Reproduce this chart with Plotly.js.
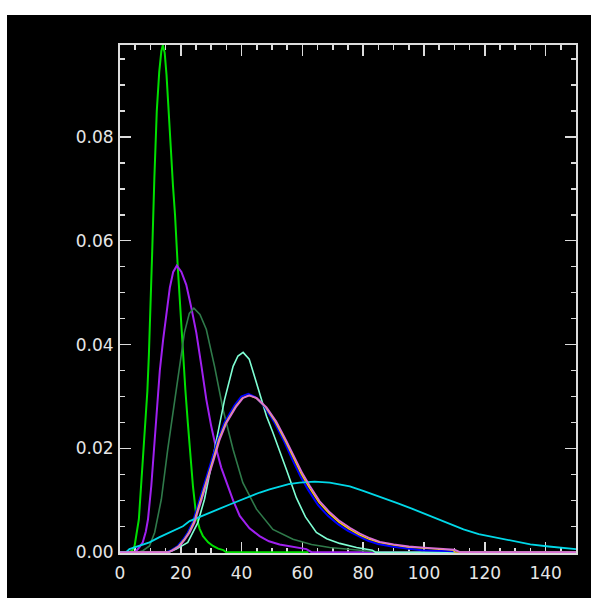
<!DOCTYPE html>
<html>
<head>
<meta charset="utf-8">
<script src="https://cdn.plot.ly/plotly-3.0.1.min.js"></script>
<style>
html,body{margin:0;padding:0;background:#ffffff;width:599px;height:610px;overflow:hidden;}
#chart{position:absolute;left:7px;top:15px;width:584px;height:583px;}
</style>
</head>
<body>
<div id="chart"></div>
<script>
// Curve 1 (green)
var greenX = [0, 3, 4, 4.8, 6.2, 7.3, 8.4, 9.0, 9.5, 10.0, 10.6, 11.3, 12.1, 12.9, 13.6, 14.1, 14.7, 15.3, 16.1, 16.8, 17.4, 18.1, 19.0, 19.8, 20.6, 21.5, 22.3, 23.1, 24.0, 25.1, 26.2, 27.3, 29.0, 30.6, 32.3, 34.0, 35, 62];
var greenY = [0, 0, 0.0003, 0.0012, 0.0063, 0.016, 0.0256, 0.031, 0.038, 0.046, 0.058, 0.072, 0.085, 0.0925, 0.0965, 0.0977, 0.0962, 0.0920, 0.0848, 0.0770, 0.0708, 0.0650, 0.0550, 0.0467, 0.0390, 0.0313, 0.0250, 0.0192, 0.0127, 0.0069, 0.0045, 0.0031, 0.0019, 0.0012, 0.0007, 0.0004, 0, 0];
// Curve 2 (purple)
var purpleX = [0, 5, 6.4, 7.5, 8.5, 9.2, 10.3, 11.1, 12.1, 13.1, 14.2, 15.3, 16.4, 17.5, 18.7, 20.2, 21.8, 23.5, 25.1, 26.8, 28.4, 30.0, 31.7, 33.3, 35.0, 37.2, 39.4, 42.6, 45.9, 49.0, 52.5, 57.0, 61.3, 63, 150];
var purpleY = [0, 0, 0.001, 0.0019, 0.004, 0.0063, 0.0128, 0.0192, 0.0285, 0.035, 0.041, 0.0465, 0.051, 0.054, 0.0552, 0.0540, 0.0515, 0.0470, 0.0423, 0.0358, 0.0294, 0.0243, 0.0198, 0.0163, 0.0134, 0.0100, 0.0070, 0.0046, 0.0031, 0.0021, 0.0015, 0.0010, 0.0006, 0, 0];
// Curve 3 (dark green)
var dkgreenX = [0, 6, 7.5, 9.7, 11.4, 13.6, 15.7, 18.0, 19.6, 21.2, 22.8, 24.3, 26.3, 28.4, 31.1, 33.9, 37.2, 40.4, 44.9, 50.3, 56.9, 63, 69, 75.6, 82, 86, 150];
var dkgreenY = [0, 0, 0.0003, 0.0012, 0.0038, 0.0102, 0.0198, 0.0294, 0.0358, 0.0423, 0.0460, 0.0470, 0.0458, 0.0429, 0.0358, 0.0275, 0.0198, 0.0134, 0.0083, 0.0044, 0.0025, 0.0015, 0.0009, 0.0006, 0.0003, 0, 0];
// Curve 4 (aquamarine)
var aquaX = [0, 16, 18.5, 22.3, 25.6, 27.8, 30.0, 32.2, 34.4, 37.2, 38.8, 40.5, 42.5, 44.9, 48.2, 50.2, 52.3, 55.0, 58.0, 61.0, 64.6, 68.0, 72.3, 77.8, 83, 84, 150];
var aquaY = [0, 0, 0.0006, 0.0019, 0.0057, 0.0102, 0.0166, 0.0230, 0.0294, 0.0358, 0.0378, 0.0385, 0.0372, 0.0326, 0.0262, 0.0232, 0.0200, 0.0155, 0.0105, 0.0068, 0.0038, 0.0026, 0.0017, 0.0009, 0.0004, 0, 0];
// Curve 5 (blue)
var blueX = [0, 15.4, 16.9, 19.0, 20.7, 22.3, 23.9, 25.6, 27.2, 28.9, 30.5, 32.2, 34.4, 37.7, 39.9, 42.2, 44.5, 47.6, 50.8, 54.1, 56.9, 59.4, 61.8, 65.1, 68.4, 71.7, 75.0, 78.3, 81.6, 84.9, 89.4, 94.4, 99.4, 105, 110, 111, 150];
var blueY = [0, 0, 0.0004, 0.0012, 0.0024, 0.0038, 0.0057, 0.0089, 0.0118, 0.0150, 0.0183, 0.0217, 0.0250, 0.0283, 0.0300, 0.0305, 0.0299, 0.0280, 0.0250, 0.0212, 0.0176, 0.0146, 0.0121, 0.0091, 0.0070, 0.0054, 0.0041, 0.0031, 0.0022, 0.0016, 0.0011, 0.0007, 0.0004, 0.0003, 0.0002, 0, 0];
// Curve 6 (yellow)
var yellowX = [0, 15.7, 17.2, 19.3, 21.0, 22.6, 24.2, 25.9, 27.5, 29.2, 30.8, 32.5, 34.7, 38.0, 40.2, 42.3, 44.7, 47.9, 51.1, 54.4, 57.2, 59.7, 62.1, 65.4, 68.7, 72.0, 75.3, 78.6, 81.9, 85.2, 89.7, 94.7, 99.7, 105, 109.5, 110.2, 150];
var yellowY = [0, 0, 0.0004, 0.0012, 0.0024, 0.0038, 0.0057, 0.0089, 0.0118, 0.0150, 0.0183, 0.0217, 0.0249, 0.0281, 0.0297, 0.0302, 0.0297, 0.0279, 0.0251, 0.0214, 0.0179, 0.0150, 0.0126, 0.0096, 0.0075, 0.0058, 0.0045, 0.0034, 0.0025, 0.0019, 0.0014, 0.0010, 0.0008, 0.0006, 0.0004, 0, 0];
// Curve 7 (cyan)
var cyanX = [0, 2, 3.1, 6, 9.7, 13, 16.3, 20.7, 22.9, 26, 29.5, 32.8, 36.1, 39.4, 42.6, 46, 49.2, 52.5, 55.5, 59.1, 64, 69, 72.3, 75.6, 80, 84, 88.8, 91, 96, 102, 107, 113, 118, 124, 130, 135, 141, 146, 150];
var cyanY = [0, 0, 0.0006, 0.0012, 0.0019, 0.0029, 0.0038, 0.0050, 0.0060, 0.0068, 0.0076, 0.0084, 0.0092, 0.0100, 0.0108, 0.0115, 0.0121, 0.0127, 0.0131, 0.0134, 0.0136, 0.0134, 0.0131, 0.0127, 0.0118, 0.0110, 0.0099, 0.0095, 0.0084, 0.0070, 0.0057, 0.0044, 0.0035, 0.0028, 0.0021, 0.0015, 0.0011, 0.0008, 0.0006];
// Curve 8 (orchid)
var orchidX = [0, 16, 17.5, 19.6, 21.3, 22.9, 24.5, 26.2, 27.8, 29.5, 31.1, 32.8, 35.0, 38.3, 40.5, 42.6, 45.0, 48.2, 51.4, 54.7, 57.5, 60.0, 62.4, 65.7, 69.0, 72.3, 75.6, 78.9, 82.2, 85.5, 90, 95, 100, 105, 110, 112, 150];
var orchidY = [0, 0, 0.0004, 0.0012, 0.0024, 0.0038, 0.0057, 0.0089, 0.0118, 0.0150, 0.0183, 0.0217, 0.0249, 0.0281, 0.0297, 0.0302, 0.0297, 0.0279, 0.0252, 0.0215, 0.0181, 0.0152, 0.0128, 0.0098, 0.0077, 0.0060, 0.0047, 0.0036, 0.0027, 0.0020, 0.0015, 0.0011, 0.0009, 0.0007, 0.0005, 0, 0];

var xTickVals = [0, 20, 40, 60, 80, 100, 120, 140];
var yTickVals = [0, 0.02, 0.04, 0.06, 0.08];

function tr(x, y, color, w) {
  return {x: x, y: y, type: 'scatter', mode: 'lines', line: {color: color, width: w}, hoverinfo: 'skip', showlegend: false};
}
var data = [
  tr(greenX, greenY, '#00e000', 2),
  tr(purpleX, purpleY, '#a020f0', 2),
  tr(dkgreenX, dkgreenY, '#2f7a4a', 1.6),
  tr(aquaX, aquaY, '#7fffd4', 1.6),
  tr(blueX, blueY, '#0000ff', 2),
  tr(yellowX, yellowY, '#ffd700', 1.3),
  tr(cyanX, cyanY, '#00d8e8', 1.8),
  tr(orchidX, orchidY, '#da70d6', 1.8)
];
var axCol = '#dcdcdc';
var fnt = {family: 'DejaVu Sans', size: 17, color: '#e6e6e6'};
var layout = {
  width: 584, height: 583,
  margin: {l: 113, r: 15, t: 30, b: 45, pad: 0},
  paper_bgcolor: '#000000', plot_bgcolor: '#000000',
  showlegend: false,
  xaxis: {
    range: [0, 150], tickvals: xTickVals, ticktext: xTickVals.map(String),
    ticks: 'inside', ticklen: 11, tickwidth: 1.5, tickcolor: axCol,
    showline: true, linecolor: axCol, linewidth: 2, mirror: 'ticks',
    minor: {dtick: 5, tick0: 0, ticks: 'inside', ticklen: 5, tickwidth: 1.5, tickcolor: axCol, showgrid: false},
    showgrid: false, zeroline: false, tickfont: fnt, ticklabelstandoff: 4, layer: 'below traces'
  },
  yaxis: {
    range: [-0.00015, 0.0977], tickvals: yTickVals, ticktext: yTickVals.map(function(v){return v.toFixed(2);}),
    ticks: 'inside', ticklen: 11, tickwidth: 1.5, tickcolor: axCol,
    showline: true, linecolor: axCol, linewidth: 2, mirror: 'ticks',
    minor: {dtick: 0.005, tick0: 0, ticks: 'inside', ticklen: 5, tickwidth: 1.5, tickcolor: axCol, showgrid: false},
    showgrid: false, zeroline: false, tickfont: fnt, ticklabelstandoff: 1, layer: 'below traces'
  }
};
Plotly.newPlot('chart', data, layout, {staticPlot: true, displayModeBar: false});
</script>
</body>
</html>
